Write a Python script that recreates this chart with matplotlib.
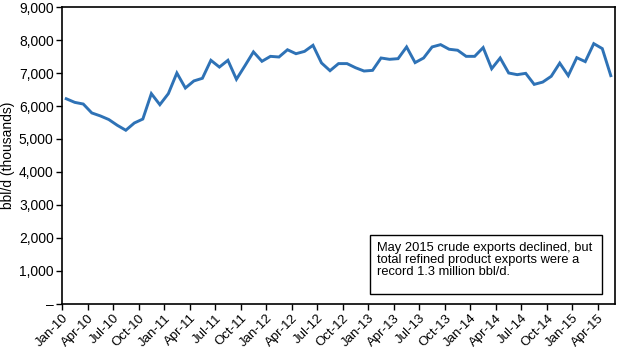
import matplotlib
matplotlib.use("Agg")
import matplotlib.pyplot as plt
import matplotlib.patches as mpatches
import numpy as np

plt.rcParams['font.family'] = ['Liberation Sans', 'DejaVu Sans']

# monthly exports, Jan-10 .. May-15 (bbl/d, thousands)
months = ['Jan', 'Feb', 'Mar', 'Apr', 'May', 'Jun', 'Jul', 'Aug', 'Sep', 'Oct', 'Nov', 'Dec']
labels = [m + '-' + str(y) for y in range(10, 16) for m in months][:65]
exports = [6220, 6110, 6060, 5790, 5700, 5590, 5415, 5265, 5485, 5605, 6375, 6040,
           6375, 7000, 6545, 6760, 6840, 7385, 7180, 7385, 6810, 7220, 7640, 7355,
           7505, 7485, 7705, 7585, 7655, 7840, 7305, 7070, 7285, 7285, 7160, 7060,
           7080, 7455, 7415, 7435, 7790, 7315, 7455, 7790, 7860, 7720, 7690, 7505,
           7505, 7770, 7130, 7455, 7000, 6950, 6990, 6655, 6725, 6900, 7300, 6920,
           7465, 7345, 7890, 7740, 6920]
y_ticks = [0, 1000, 2000, 3000, 4000, 5000, 6000, 7000, 8000, 9000]
y_labels = ['–', '1,000', '2,000', '3,000', '4,000', '5,000', '6,000', '7,000', '8,000', '9,000']
note = "May 2015 crude exports declined, but\ntotal refined product exports were a\nrecord 1.3 million bbl/d."

fig = plt.figure(figsize=(6.2, 3.51), dpi=100)
ax = fig.add_axes([0.1, 0.134, 0.892, 0.846])

x = np.arange(len(exports)) + 0.5  # points sit in the middle of each month
ax.plot(x, exports, color='#2e72b6', linewidth=2.1, solid_joinstyle='miter')

ax.set_xlim(0, 65)
ax.set_ylim(0, 9000)
ax.set_xticks(np.arange(0, 64, 3))
ax.set_xticklabels(labels[0:64:3], rotation=45, ha='right', rotation_mode='anchor', fontsize=9.5)
ax.set_yticks(y_ticks)
ax.set_yticklabels(y_labels, fontsize=10)
ax.tick_params(direction='out', length=4, width=1, colors='black', pad=2)
for s in ax.spines.values():
    s.set_linewidth(1.2)
ax.set_ylabel('bbl/d (thousands)', fontsize=10, labelpad=3)

# note box
ax.add_patch(mpatches.Rectangle((0.557, 0.034), 0.4195, 0.199, transform=ax.transAxes,
                                facecolor='white', edgecolor='black', linewidth=1, zorder=3))
ax.text(0.570, 0.210, note, transform=ax.transAxes, fontsize=9.25, va='top', ha='left',
        linespacing=1.0, zorder=4)

fig.savefig('out.png', dpi=100)
